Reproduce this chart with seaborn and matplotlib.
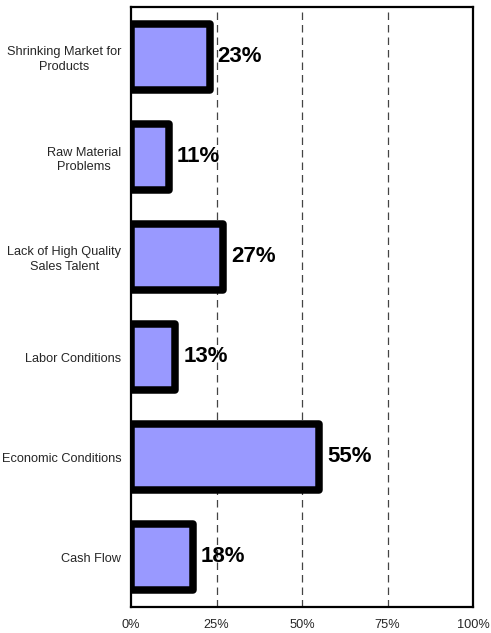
import matplotlib
matplotlib.use("Agg")
import matplotlib.pyplot as plt
import seaborn as sns
from matplotlib.ticker import FixedLocator

categories = [
    "Shrinking Market for\nProducts",
    "Raw Material\nProblems",
    "Lack of High Quality\nSales Talent",
    "Labor Conditions",
    "Economic Conditions",
    "Cash Flow",
]
values = [23, 11, 27, 13, 55, 18]
x_ticks = [0, 25, 50, 75, 100]
x_tick_labels = ["0%", "25%", "50%", "75%", "100%"]

sns.set_style("white")
plt.rcParams["font.family"] = ["Liberation Sans", "DejaVu Sans"]

fig = plt.figure(figsize=(4.91, 6.33), dpi=100)
ax = fig.add_axes([131 / 491, 1 - 607 / 633, 342 / 491, 600 / 633])

sns.barplot(x=values, y=categories, orient="h", color="#9999FF",
            edgecolor="black", linewidth=5.4, width=0.66, saturation=1,
            ax=ax, zorder=3)
for p in ax.patches:
    p.set_joinstyle("round")

# value labels just past the end of each bar
for i, v in enumerate(values):
    ax.text(v + 2.3, i, f"{v}%", va="center", ha="left",
            fontsize=16, fontweight="bold", color="black", zorder=5)

ax.set_xlim(0, 100)
ax.set_ylim(len(categories) - 0.5, -0.5)
ax.set_xticks(x_ticks)
ax.set_xticklabels(x_tick_labels, fontsize=9.2)
ax.tick_params(axis="x", length=0, pad=9)

ax.set_yticks(range(len(categories)))
ax.set_yticklabels(categories, fontsize=9.2, multialignment="center",
                   linespacing=1.33)
ax.tick_params(axis="y", which="major", length=0, pad=7)
ax.yaxis.set_minor_locator(FixedLocator([i - 0.5 for i in range(len(categories) + 1)]))
ax.tick_params(axis="y", which="minor", length=4, width=1, color="black", direction="out")

for xv in x_ticks[1:-1]:
    ax.axvline(xv, color="#444444", linewidth=0.9, linestyle=(0, (6, 4)), zorder=1)

for side in ["left", "right", "top", "bottom"]:
    ax.spines[side].set_visible(True)
    ax.spines[side].set_color("black")
    ax.spines[side].set_linewidth(1.6)

ax.set_xlabel("")
ax.set_ylabel("")
fig.savefig("out.png", dpi=100)
